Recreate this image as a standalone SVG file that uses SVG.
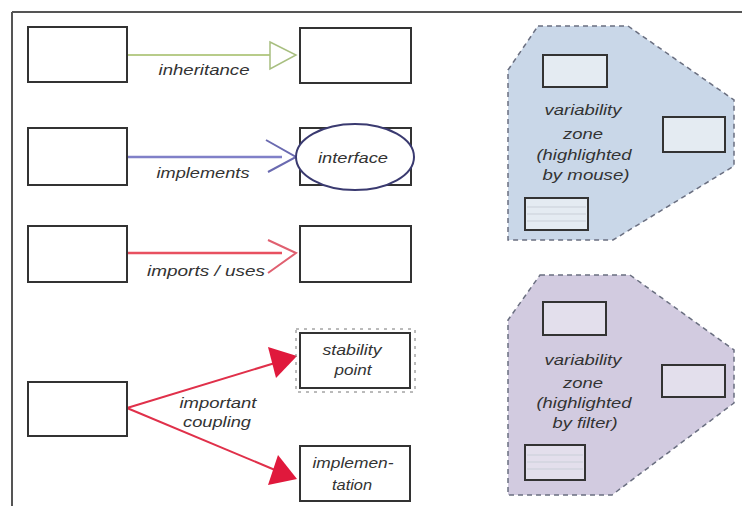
<svg xmlns="http://www.w3.org/2000/svg" width="742" height="506" viewBox="0 0 742 506">
<defs>
<style>
.box{fill:#fff;stroke:#333;stroke-width:2}
.lbl{font-family:"Liberation Sans",Arial,sans-serif;font-style:italic;font-size:14px;fill:#333;text-anchor:middle}
.zone-lbl{font-family:"Liberation Sans",Arial,sans-serif;font-style:italic;font-size:15px;fill:#333;text-anchor:middle}
.inner{fill:#e4ebf2;stroke:#333;stroke-width:2}
.innerp{fill:#e3dfec;stroke:#333;stroke-width:2}
.stripe{stroke:#c9cfd8;stroke-width:1}
.zone{stroke:#6a6f80;stroke-width:1.5;stroke-dasharray:5,4}
</style>
</defs>
<rect width="742" height="506" fill="#fff"/>
<g id="frame">
<line x1="12" y1="12" x2="742" y2="12" stroke="#555" stroke-width="2"/>
<line x1="12" y1="12" x2="12" y2="506" stroke="#555" stroke-width="2"/>
</g>

<g id="connectors">
<line x1="127" y1="55" x2="270" y2="55" stroke="#b8cc8a" stroke-width="2"/>
<path d="M270,42 L296,55 L270,69 Z" fill="#fff" stroke="#a8bf80" stroke-width="1.5"/>
<line x1="127" y1="157" x2="282" y2="157" stroke="#8080c8" stroke-width="2.5"/>
<path d="M266,140 L296,157 L268,172" fill="none" stroke="#6a6ab0" stroke-width="2"/>
<line x1="127" y1="253" x2="282" y2="253" stroke="#e85060" stroke-width="2.5"/>
<path d="M268,240 L296,253 L268,273" fill="none" stroke="#e06070" stroke-width="2"/>
<line x1="127" y1="408" x2="275" y2="363" stroke="#e0304a" stroke-width="2"/>
<path d="M297,356 L268,347 L276,378 Z" fill="#e0193c"/>
<line x1="127" y1="408" x2="275" y2="470" stroke="#e0304a" stroke-width="2"/>
<path d="M297,479 L278,455 L268,485 Z" fill="#e0193c"/>
<text class="lbl" x="204" y="75" textLength="91" lengthAdjust="spacingAndGlyphs">inheritance</text>
<text class="lbl" x="203" y="178" textLength="93" lengthAdjust="spacingAndGlyphs">implements</text>
<text class="lbl" x="206" y="276" textLength="118" lengthAdjust="spacingAndGlyphs">imports / uses</text>
<text class="lbl" x="218" y="408" textLength="77" lengthAdjust="spacingAndGlyphs">important</text>
<text class="lbl" x="217" y="427" textLength="68" lengthAdjust="spacingAndGlyphs">coupling</text>
</g>

<g id="n-inh-src"><rect class="box" x="28" y="27" width="99" height="55"/></g>
<g id="n-inh-dst"><rect class="box" x="300" y="28" width="111" height="55"/></g>
<g id="n-impl-src"><rect class="box" x="28" y="128" width="99" height="57"/></g>
<g id="n-interface">
<rect class="box" x="300" y="128" width="111" height="57"/>
<ellipse cx="355" cy="157" rx="59" ry="33" fill="#fff" stroke="#3a3a70" stroke-width="2"/>
<text class="lbl" x="353" y="163" textLength="70" lengthAdjust="spacingAndGlyphs">interface</text>
</g>
<g id="n-imp-src"><rect class="box" x="28" y="226" width="99" height="56"/></g>
<g id="n-imp-dst"><rect class="box" x="300" y="226" width="111" height="56"/></g>
<g id="n-coup-src"><rect class="box" x="28" y="382" width="99" height="54"/></g>
<g id="n-stability">
<rect x="296" y="329" width="119" height="63" fill="none" stroke="#777" stroke-width="1" stroke-dasharray="3,5"/>
<rect class="box" x="300" y="333" width="110" height="55"/>
<text class="lbl" x="352" y="355" textLength="59" lengthAdjust="spacingAndGlyphs">stability</text>
<text class="lbl" x="353" y="375" textLength="37" lengthAdjust="spacingAndGlyphs">point</text>
</g>
<g id="n-implementation">
<rect class="box" x="300" y="446" width="110" height="55"/>
<text class="lbl" x="353" y="468" textLength="81" lengthAdjust="spacingAndGlyphs">implemen-</text>
<text class="lbl" x="352" y="490" textLength="40" lengthAdjust="spacingAndGlyphs">tation</text>
</g>

<g id="zone-mouse">
<polygon class="zone" fill="#c9d7e8" points="538,26 628,26 734,100 734,166 613,240 508,240 508,70"/>
<rect class="inner" x="543" y="55" width="64" height="32"/>
<rect class="inner" x="663" y="117" width="62" height="35"/>
<rect class="inner" x="525" y="198" width="63" height="32"/>
<line class="stripe" x1="527" y1="207" x2="586" y2="207"/>
<line class="stripe" x1="527" y1="214" x2="586" y2="214"/>
<line class="stripe" x1="527" y1="221" x2="586" y2="221"/>
<text class="zone-lbl" x="583" y="115" textLength="77" lengthAdjust="spacingAndGlyphs">variability</text>
<text class="zone-lbl" x="583" y="139" textLength="40" lengthAdjust="spacingAndGlyphs">zone</text>
<text class="zone-lbl" x="584" y="160" textLength="95" lengthAdjust="spacingAndGlyphs">(highlighted</text>
<text class="zone-lbl" x="586" y="180" textLength="87" lengthAdjust="spacingAndGlyphs">by mouse)</text>
</g>

<g id="zone-filter">
<polygon class="zone" fill="#d2cbe0" points="540,275 630,275 734,350 734,403 612,495 508,495 508,320"/>
<rect class="innerp" x="543" y="302" width="63" height="33"/>
<rect class="innerp" x="662" y="365" width="63" height="32"/>
<rect class="innerp" x="525" y="445" width="60" height="35"/>
<line class="stripe" x1="527" y1="455" x2="583" y2="455"/>
<line class="stripe" x1="527" y1="462" x2="583" y2="462"/>
<line class="stripe" x1="527" y1="469" x2="583" y2="469"/>
<text class="zone-lbl" x="583" y="365" textLength="77" lengthAdjust="spacingAndGlyphs">variability</text>
<text class="zone-lbl" x="583" y="388" textLength="40" lengthAdjust="spacingAndGlyphs">zone</text>
<text class="zone-lbl" x="584" y="408" textLength="95" lengthAdjust="spacingAndGlyphs">(highlighted</text>
<text class="zone-lbl" x="585" y="428" textLength="65" lengthAdjust="spacingAndGlyphs">by filter)</text>
</g>
</svg>
